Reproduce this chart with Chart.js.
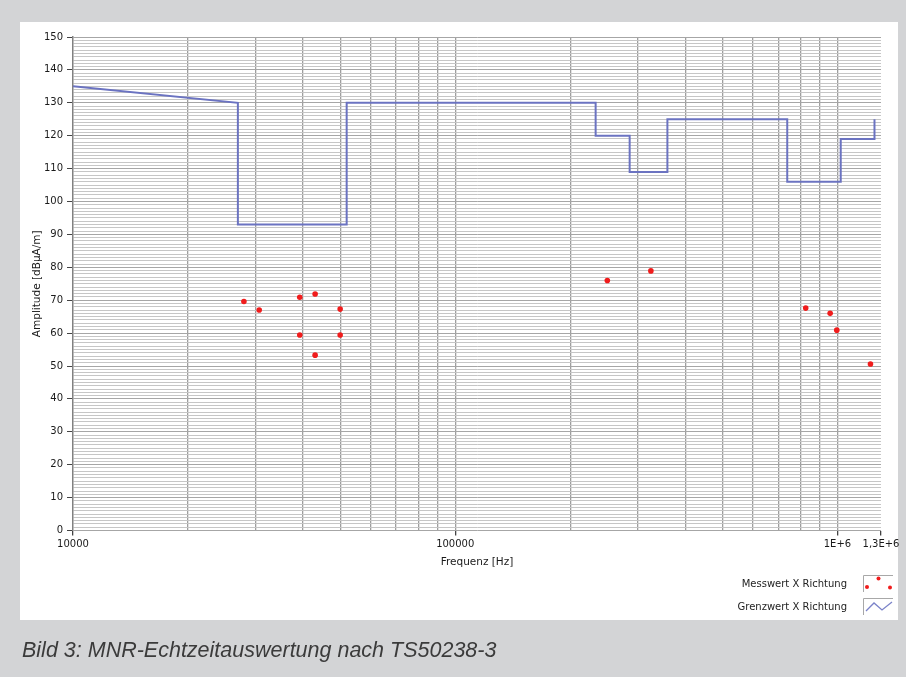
<!DOCTYPE html>
<html>
<head>
<meta charset="utf-8">
<script src="https://cdn.jsdelivr.net/npm/chart.js@4/dist/chart.umd.min.js"></script>
<style>
  html, body { margin: 0; padding: 0; }
  body { width: 906px; height: 677px; background: #d3d4d6; position: relative; overflow: hidden; font-family: "DejaVu Sans", sans-serif; }
  #panel { position: absolute; left: 20px; top: 22px; width: 878px; height: 598px; background: #fff; }
  #chart { position: absolute; left: 0; top: 0; }
  .lg { position: absolute; right: 13px; height: 17px; display: flex; align-items: center; font-size: 10px; color: #222; }
  .lg svg { margin-left: 16px; }
  #caption { position: absolute; left: 22px; top: 640px; font: italic 21.5px/21px "Liberation Sans", Arial, sans-serif; color: #3b3b3b; }
</style>
</head>
<body>
<div id="panel"></div>
<canvas id="chart" width="906" height="677"></canvas>
<div class="lg" style="top:575px">Messwert X Richtung
  <svg width="30" height="17"><path d="M0.5 17V0.5H30" fill="none" stroke="#a8a8a8"/>
    <circle cx="4" cy="12" r="2" fill="#f01c1c"/><circle cx="15.5" cy="3.5" r="2" fill="#f01c1c"/><circle cx="27" cy="12.5" r="2" fill="#f01c1c"/></svg>
</div>
<div class="lg" style="top:598px">Grenzwert X Richtung
  <svg width="30" height="17"><path d="M0.5 17V0.5H30" fill="none" stroke="#a8a8a8"/>
    <polyline points="3,13 11,5 19,12 29,4" fill="none" stroke="#7b83c9" stroke-width="1.3"/></svg>
</div>
<div id="caption">Bild 3: MNR-Echtzeitauswertung nach TS50238-3</div>

<script>
// measured values (Messwert X Richtung)
const measFreq = [28000, 30700, 39200, 43000, 50000, 39200, 50000, 43000, 250000, 325000, 826000, 957000, 996000, 1220000];
const measLevel = [69.6, 67.0, 70.9, 71.9, 67.3, 59.4, 59.4, 53.3, 76.0, 78.9, 67.6, 66.0, 60.9, 50.6];

// limit (Grenzwert X Richtung), stepped
const limitFreq = [10000, 27000, 27000, 52000, 52000, 233000, 233000, 286000, 286000, 359000, 359000, 739000, 739000, 1020000, 1020000, 1250000, 1250000];
const limitLevel = [135, 130, 93, 93, 130, 130, 120, 120, 109, 109, 125, 125, 106, 106, 119, 119, 125];

// axes
const xGridValues = [10000, 20000, 30000, 40000, 50000, 60000, 70000, 80000, 90000,
  100000, 200000, 300000, 400000, 500000, 600000, 700000, 800000, 900000, 1000000, 1300000];
const xLabelValues = [10000, 100000, 1000000, 1300000];
const xLabelText = ['10000', '100000', '1E+6', '1,3E+6'];
const yMin = 0, yMax = 150, yStep = 1, yLabelEvery = 10;

const tickFont = { family: 'DejaVu Sans', size: 10 };
const isLabeled = v => xLabelValues.indexOf(v) >= 0;

new Chart(document.getElementById('chart'), {
  type: 'scatter',
  data: {
    datasets: [{
      label: 'Messwert X Richtung',
      data: measFreq.map((f, i) => ({ x: f, y: measLevel[i] })),
      pointRadius: 2.8,
      pointBorderWidth: 0,
      backgroundColor: '#f01c1c',
      order: 0
    }, {
      label: 'Grenzwert X Richtung',
      data: limitFreq.map((f, i) => ({ x: f, y: limitLevel[i] })),
      showLine: true,
      pointRadius: 0,
      borderColor: '#6b73c1',
      borderWidth: 2,
      tension: 0,
      order: 1
    }]
  },
  options: {
    responsive: false,
    animation: false,
    layout: { padding: { left: 27, top: 37, right: 25, bottom: 104 } },
    plugins: { legend: { display: false }, tooltip: { enabled: false } },
    scales: {
      x: {
        type: 'logarithmic',
        min: 10000,
        max: 1300000,
        afterBuildTicks: s => { s.ticks = xGridValues.map(v => ({ value: v })); },
        afterFit: s => { s.height = 42.5; },
        border: { display: false },
        grid: {
          color: ctx => (ctx.tick && (ctx.tick.value === 10000 || ctx.tick.value === 1300000)) ? 'rgba(0,0,0,0)' : '#9e9e9e',
          lineWidth: 1.3,
          tickLength: 5,
          tickColor: ctx => (ctx.tick && isLabeled(ctx.tick.value)) ? '#444' : 'rgba(0,0,0,0)'
        },
        ticks: {
          autoSkip: false,
          maxRotation: 0,
          padding: 3,
          color: '#1a1a1a',
          font: tickFont,
          callback: v => {
            const i = xLabelValues.indexOf(v);
            return i >= 0 ? xLabelText[i] : '';
          }
        },
        title: { display: true, text: 'Frequenz [Hz]', color: '#1a1a1a', font: { family: 'DejaVu Sans', size: 10.5 } }
      },
      y: {
        min: yMin,
        max: yMax,
        afterFit: s => { s.width = 46; },
        border: { display: true, color: '#808080', width: 1.5 },
        grid: {
          color: ctx => (ctx.tick && ctx.tick.value % yLabelEvery === 0) ? '#a6a6a6' : '#c6c6c6',
          lineWidth: 1,
          tickLength: 6,
          tickColor: ctx => (ctx.tick && ctx.tick.value % yLabelEvery === 0) ? '#444' : 'rgba(0,0,0,0)'
        },
        ticks: {
          stepSize: yStep,
          autoSkip: false,
          padding: 4,
          color: '#1a1a1a',
          font: tickFont,
          callback: v => v % yLabelEvery === 0 ? v : ''
        },
        title: { display: true, text: 'Amplitude [dBµA/m]', color: '#1a1a1a', font: { family: 'DejaVu Sans', size: 10.5 } }
      }
    }
  }
});
</script>
</body>
</html>
